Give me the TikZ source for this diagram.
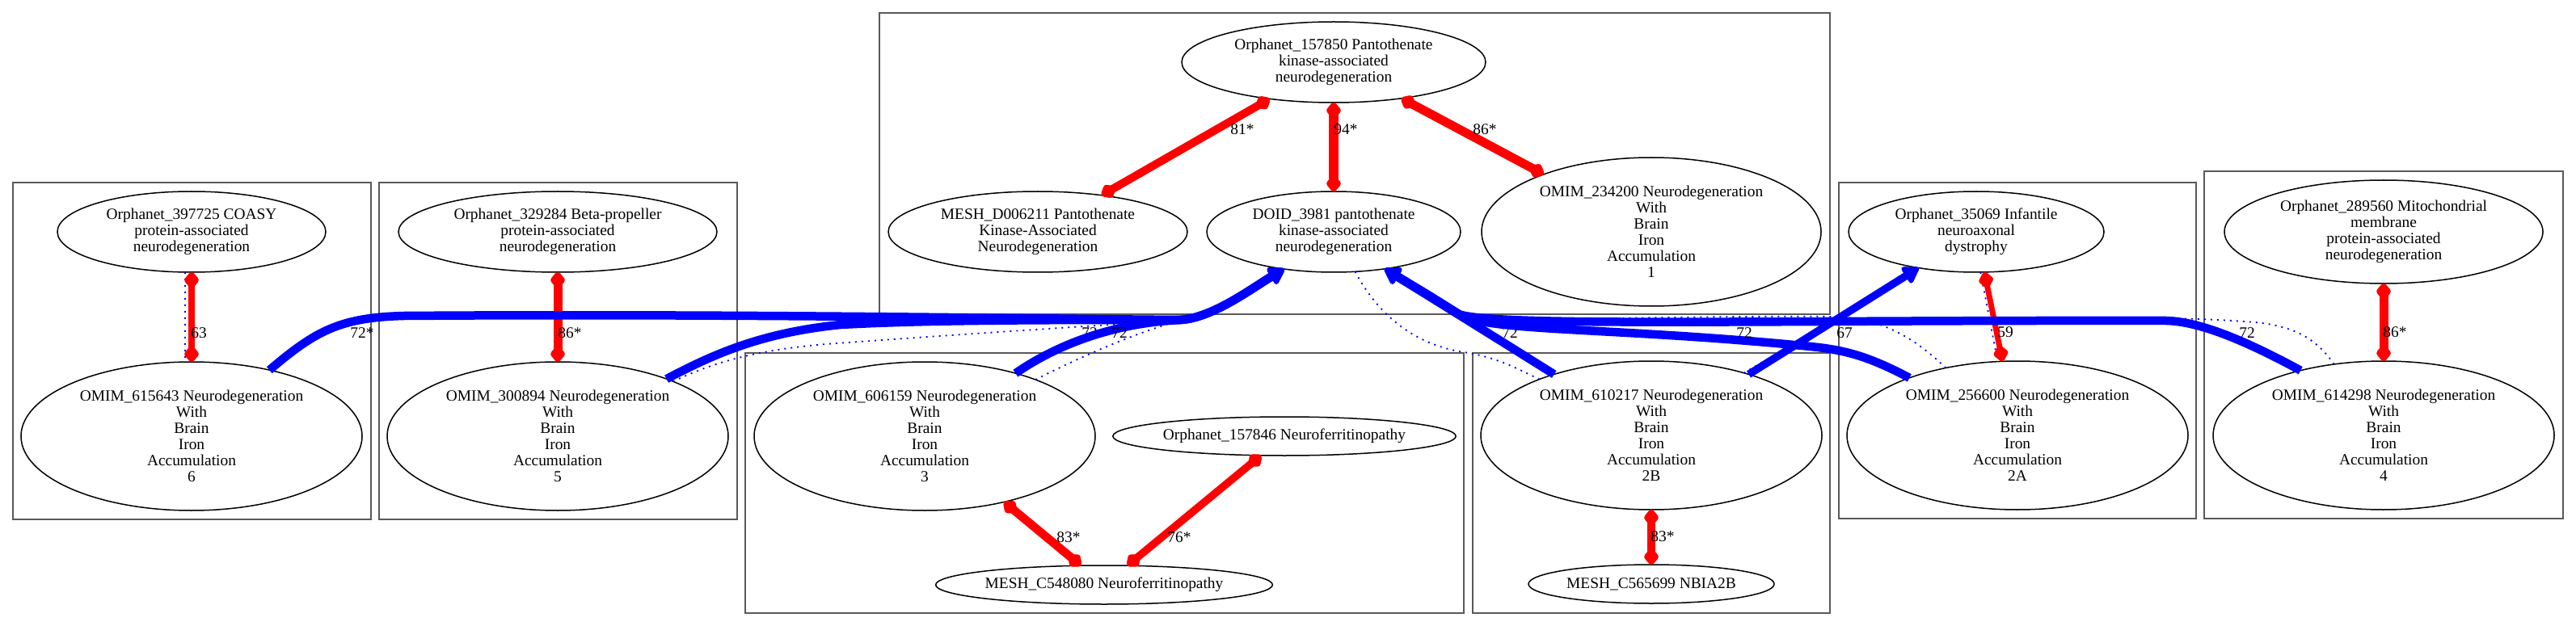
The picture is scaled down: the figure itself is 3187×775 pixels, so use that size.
\documentclass[tikz,border=0pt]{standalone}
\usepackage{fontspec}
\setmainfont{Liberation Serif}
\usetikzlibrary{arrows.meta,shapes.geometric}
\newcommand{\nbfont}{\fontsize{19.4}{20}\selectfont}
\begin{document}
\begin{tikzpicture}[
    x=1pt, y=-1pt,
    dis/.style={draw, ellipse, line width=1.5pt, inner sep=0pt, outer sep=0pt, align=center, font=\nbfont},
    grp/.style={draw=black!65, line width=1.5pt},
    score/.style={inner sep=0pt, font=\nbfont},
    match/.style={red, line width=#1, {Diamond[length=24pt,width=20pt,round]}-{Diamond[length=24pt,width=20pt,round]}},
    link/.style={blue, line width=#1, -{Triangle[length=22pt,width=26pt,round]}},
    xref/.style={blue, line width=1.8pt, dash pattern=on 2pt off 6pt}
]
\path[fill=white, use as bounding box] (0,0) rectangle (3187,775);

\draw[grp] (1088,16) rectangle (2264,389);
\draw[grp] (16,226) rectangle (459,643);
\draw[grp] (469,226) rectangle (912,643);
\draw[grp] (922,437) rectangle (1811,759);
\draw[grp] (1822,437) rectangle (2264,759);
\draw[grp] (2275,226) rectangle (2717,642);
\draw[grp] (2727,212) rectangle (3171,642);

\node[dis, minimum width=376pt, minimum height=100pt] (orph157850) at (1650,77) {Orphanet\_157850 Pantothenate\\kinase-associated\\neurodegeneration};
\node[dis, minimum width=370pt, minimum height=100pt] (mesh006211) at (1284,287) {MESH\_D006211 Pantothenate\\Kinase-Associated\\Neurodegeneration};
\node[dis, minimum width=314pt, minimum height=100pt] (doid) at (1650,287) {DOID\_3981 pantothenate\\kinase-associated\\neurodegeneration};
\node[dis, minimum width=420pt, minimum height=184pt] (omim234200) at (2043,287) {OMIM\_234200 Neurodegeneration\\With\\Brain\\Iron\\Accumulation\\1};
\node[dis, minimum width=332pt, minimum height=100pt] (orph397725) at (237,287) {Orphanet\_397725 COASY\\protein-associated\\neurodegeneration};
\node[dis, minimum width=422pt, minimum height=184pt] (omim615643) at (237,540) {OMIM\_615643 Neurodegeneration\\With\\Brain\\Iron\\Accumulation\\6};
\node[dis, minimum width=394pt, minimum height=100pt] (orph329284) at (690,287) {Orphanet\_329284 Beta-propeller\\protein-associated\\neurodegeneration};
\node[dis, minimum width=422pt, minimum height=184pt] (omim300894) at (690,540) {OMIM\_300894 Neurodegeneration\\With\\Brain\\Iron\\Accumulation\\5};
\node[dis, minimum width=422pt, minimum height=184pt] (omim606159) at (1144,540) {OMIM\_606159 Neurodegeneration\\With\\Brain\\Iron\\Accumulation\\3};
\node[dis, minimum width=420pt, minimum height=48pt] (orph157846) at (1589,540) {Orphanet\_157846 Neuroferritinopathy};
\node[dis, minimum width=414pt, minimum height=48pt] (meshC548080) at (1366,724) {MESH\_C548080 Neuroferritinopathy};
\node[dis, minimum width=422pt, minimum height=184pt] (omim610217) at (2043,539) {OMIM\_610217 Neurodegeneration\\With\\Brain\\Iron\\Accumulation\\2B};
\node[dis, minimum width=304pt, minimum height=48pt] (meshC565699) at (2043,723) {MESH\_C565699 NBIA2B};
\node[dis, minimum width=316pt, minimum height=100pt] (orph35069) at (2445,287) {Orphanet\_35069 Infantile\\neuroaxonal\\dystrophy};
\node[dis, minimum width=422pt, minimum height=184pt] (omim256600) at (2496,539) {OMIM\_256600 Neurodegeneration\\With\\Brain\\Iron\\Accumulation\\2A};
\node[dis, minimum width=394pt, minimum height=128pt] (orph289560) at (2949,287) {Orphanet\_289560 Mitochondrial\\membrane\\protein-associated\\neurodegeneration};
\node[dis, minimum width=422pt, minimum height=184pt] (omim614298) at (2949,539) {OMIM\_614298 Neurodegeneration\\With\\Brain\\Iron\\Accumulation\\4};

\draw[xref] (orph397725.261) -- (omim615643.95);
\draw[xref] (omim300894) .. controls (890,445) and (950,430) .. (1050,424) .. controls (1200,413) and (1400,400) .. (1460,397) .. controls (1500,394) and (1550,356) .. (doid.217);
\draw[xref] (omim606159) .. controls (1340,440) and (1410,410) .. (1460,397) .. controls (1500,394) and (1550,356) .. (doid.217);
\draw[xref] (doid) .. controls (1700,380) and (1740,425) .. (1811,436) .. controls (1850,442) and (1875,455) .. (omim610217);
\draw[xref] (omim610217.34) -- (orph35069.213);
\draw[xref] (omim256600) .. controls (2375,425) and (2335,394) .. (2270,392) .. controls (2100,390) and (1860,400) .. (1805,389) .. controls (1770,367) .. (doid.324);
\draw[xref] (orph35069.276) -- (omim256600.105);
\draw[xref] (omim614298) .. controls (2866,420) and (2840,404) .. (2790,399) .. controls (2740,395) and (2700,394) .. (2640,394) .. controls (2200,393) and (1860,400) .. (1805,389) .. controls (1770,367) .. (doid.324);

\draw[match=10pt] (orph157850) -- (mesh006211);
\node[score] (s81) at (1537,160) {81*};
\draw[match=12pt] (orph157850) -- (doid);
\node[score] (s94) at (1665,160) {94*};
\draw[match=11pt] (orph157850) -- (omim234200);
\node[score] (s86a) at (1837,160) {86*};
\draw[match=8pt] (orph397725) -- (omim615643);
\node[score] (s63) at (246,412) {63};
\draw[match=11pt] (orph329284) -- (omim300894);
\node[score] (s86b) at (705,412) {86*};
\draw[match=10.5pt] (omim606159) -- (meshC548080);
\node[score] (s83a) at (1322,665) {83*};
\draw[match=9.5pt] (orph157846) -- (meshC548080);
\node[score] (s76) at (1459,665) {76*};
\draw[match=10.5pt] (omim610217) -- (meshC565699);
\node[score] (s83b) at (2057,664) {83*};
\draw[match=7pt] (orph35069) -- (omim256600);
\node[score] (s59) at (2481,411) {59};
\draw[match=11pt] (orph289560) -- (omim614298);
\node[score] (s86c) at (2963,411) {86*};

\draw[link=10.5pt] (omim615643) .. controls (390,410) and (420,393) .. (500,391) .. controls (900,388) and (1300,395) .. (1460,396) .. controls (1500,394) and (1550,356) .. (doid.217);
\node[score] (s615643) at (448,412) {72*};
\draw[link=10.5pt] (omim300894) .. controls (880,440) and (940,412) .. (1040,402) .. controls (1150,396) and (1300,396) .. (1460,396) .. controls (1500,394) and (1550,356) .. (doid.217);
\node[score] (s300894) at (1348,412) {72};
\draw[link=10.5pt] (omim606159) .. controls (1310,425) and (1380,400) .. (1460,396) .. controls (1500,394) and (1550,356) .. (doid.217);
\node[score] (s606159) at (1385,412) {72};
\draw[link=10.5pt] (omim610217) .. controls (1860,424) and (1770,368) .. (doid.324);
\node[score] (s610217) at (1868,412) {72};
\draw[link=10.5pt] (omim256600) .. controls (2310,440) and (2280,433) .. (2240,429) .. controls (2000,405) and (1840,411) .. (1805,389) .. controls (1770,367) .. (doid.324);
\node[score] (s256600) at (2158,412) {72};
\draw[link=9.5pt] (omim610217) -- (orph35069);
\node[score] (s35069) at (2282,412) {67};
\draw[link=10.5pt] (omim614298.142) .. controls (2775,420) and (2720,398) .. (2680,397) .. controls (2200,396) and (1850,405) .. (1805,389) .. controls (1770,367) .. (doid.324);
\node[score] (s614298) at (2780,412) {72};
\end{tikzpicture}
\end{document}
